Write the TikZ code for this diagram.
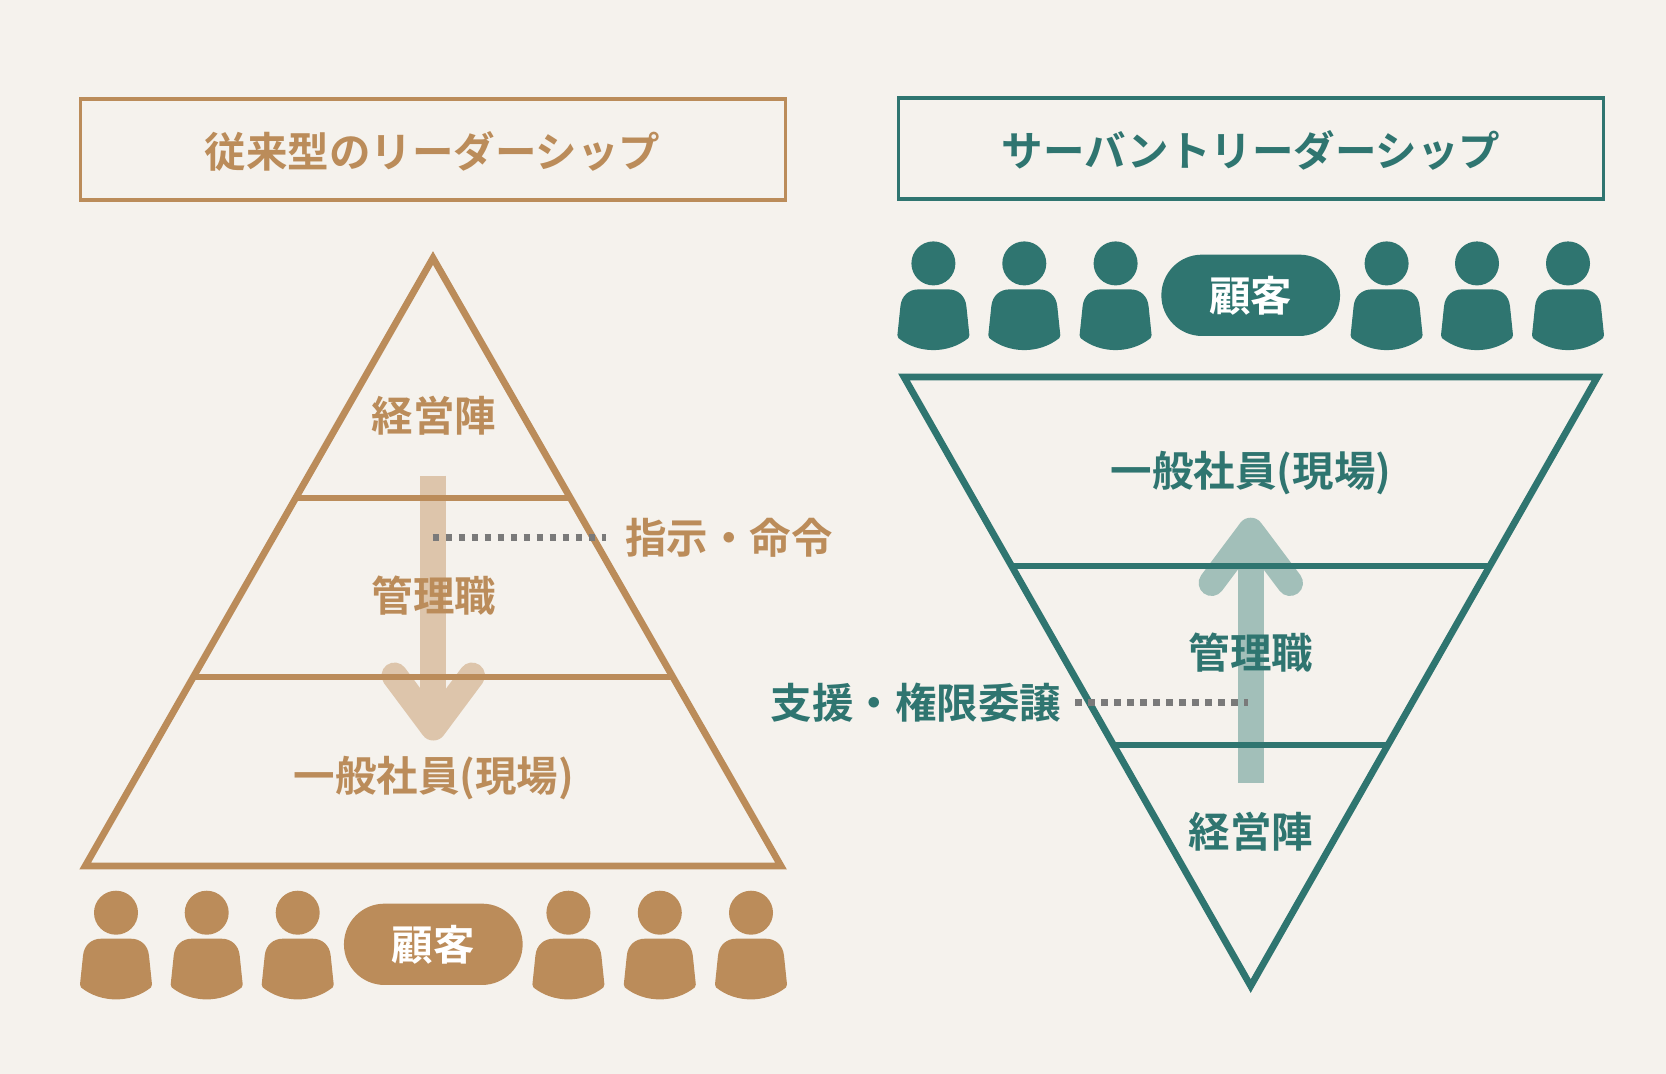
\documentclass[tikz,border=0pt]{standalone}
\usepackage{fontspec}
\setmainfont{Noto Sans CJK JP Bold}[BoldFont=Noto Sans CJK JP Bold]
\definecolor{bgc}{RGB}{245,242,237}
\definecolor{tan}{RGB}{187,140,90}
\definecolor{teal}{RGB}{47,117,112}
\definecolor{tanlt}{RGB}{221,197,171}
\definecolor{teallt}{RGB}{162,191,185}
\definecolor{dotc}{RGB}{122,122,122}
\tikzset{
  lbl/.style={inner sep=0pt,font=\fontsize{41.5}{50}\selectfont,text=#1},
  titlebox/.style={draw=#1,line width=3.4pt,fill=none,inner sep=0pt,minimum width=705pt,minimum height=101pt},
  tri/.style={draw=#1,line width=6.8pt,miter limit=10,line join=miter},
  cross/.style={draw=#1,line width=6.2pt},
  pill/.style={fill=#1,rounded corners=40.6pt,inner sep=0pt,minimum width=178.7pt,minimum height=81.3pt,text=white,font=\fontsize{41.5}{50}\selectfont},
  shaft/.style={draw=#1,line width=26pt},
  arrowarm/.style={draw=#1,line width=26pt,line cap=round,line join=round},
  dotline/.style={draw=dotc,line width=6.5pt,dash pattern=on 6.5pt off 6.5pt},
  person/.pic={
    \fill[pic actions] (0,-26.7) circle[radius=22];
    \fill[pic actions] (-36,45) .. controls (-36.3,46.6) and (-36.3,47) .. (-35,48)
       .. controls (-15,64) and (15,64) .. (35,48)
       .. controls (36.3,47) and (36.3,46.6) .. (36,45)
       -- (33,16.3) .. controls (32,5.3) and (24,-0.7) .. (15,-0.7)
       -- (-15,-0.7) .. controls (-24,-0.7) and (-32,5.3) .. (-33,16.3) -- cycle;
  }
}
\begin{document}
\begin{tikzpicture}[x=1pt,y=-1pt]
\useasboundingbox[fill=bgc] (0,0) rectangle (1666,1074);
\begin{scope}[yshift=-1pt]
% titles
\node[titlebox=tan] (ltitle) at (433.2,148.3) {};
\node[lbl=tan] (ltitletext) at (432.5,150) {従来型のリーダーシップ};
\node[titlebox=teal] (rtitle) at (1251,147.5) {};
\node[lbl=teal] (rtitletext) at (1251,149) {サーバントリーダーシップ};

% left arrow (under the pyramid)
\coordinate (la0) at (433.3,474.7);
\coordinate (la1) at (433.3,726.5);
\coordinate (la2) at (394.5,674.5);
\coordinate (la3) at (472,674.5);
\draw[shaft=tanlt] (la0) -- (la1);
\draw[arrowarm=tanlt] (la2) -- (la1) -- (la3);

% left pyramid
\coordinate (lA) at (433,257);
\coordinate (lB) at (85.2,865);
\coordinate (lC) at (781,865);
\coordinate (lc1) at (295.3,496.8);
\coordinate (lc2) at (570.7,496.8);
\coordinate (lc3) at (193,675.9);
\coordinate (lc4) at (673,675.9);
\draw[tri=tan] (lA) -- (lB) -- (lC) -- cycle;
\draw[cross=tan] (lc1) -- (lc2);
\draw[cross=tan] (lc3) -- (lc4);
\node[lbl=tan] (l1) at (433.8,415) {経営陣};
\node[lbl=tan] (l2) at (433.8,594.5) {管理職};
\node[lbl=tan] (l3) at (433.8,777.5) {一般社員(現場)};

% left dots + label
\node[lbl=tan] (lnote) at (728.8,537) {指示・命令};
\coordinate (ld0) at (432.7,536.7);
\coordinate (ld1) at (606,536.7);
\draw[dotline] (ld0) -- (ld1);

% left customers
\foreach \x in {116,206.7,297.7,568.4,659.8,751}
  \pic[fill=tan] at (\x,938.4) {person};
\node[pill=tan] (lcust) at (433.3,943.3) {顧客};

% right arrow
\coordinate (ra0) at (1250.7,781.7);
\coordinate (ra1) at (1250.7,529.7);
\coordinate (ra2) at (1211.6,582);
\coordinate (ra3) at (1290,582);
\draw[shaft=teallt] (ra0) -- (ra1);
\draw[arrowarm=teallt] (ra2) -- (ra1) -- (ra3);

% right pyramid
\coordinate (rA) at (1250.7,985);
\coordinate (rB) at (904,376);
\coordinate (rC) at (1597.4,376);
\coordinate (rc1) at (1011.4,564.6);
\coordinate (rc2) at (1490,564.6);
\coordinate (rc3) at (1113.4,743.6);
\coordinate (rc4) at (1388,743.6);
\draw[tri=teal] (rA) -- (rB) -- (rC) -- cycle;
\draw[cross=teal] (rc1) -- (rc2);
\draw[cross=teal] (rc3) -- (rc4);
\node[lbl=teal] (r1) at (1251,472.5) {一般社員(現場)};
\node[lbl=teal] (r2) at (1251.2,652) {管理職};
\node[lbl=teal] (r3) at (1251.2,830.5) {経営陣};

% right dots + label
\node[lbl=teal] (rnote) at (915.8,702) {支援・権限委譲};
\coordinate (rd0) at (1075.4,701.7);
\coordinate (rd1) at (1248,701.7);
\draw[dotline] (rd0) -- (rd1);

% right customers
\foreach \x in {933.4,1024.3,1115.6,1386.6,1477,1568}
  \pic[fill=teal] at (\x,289.1) {person};
\node[pill=teal] (rcust) at (1250.7,294.3) {顧客};
\end{scope}
\end{tikzpicture}
\end{document}
